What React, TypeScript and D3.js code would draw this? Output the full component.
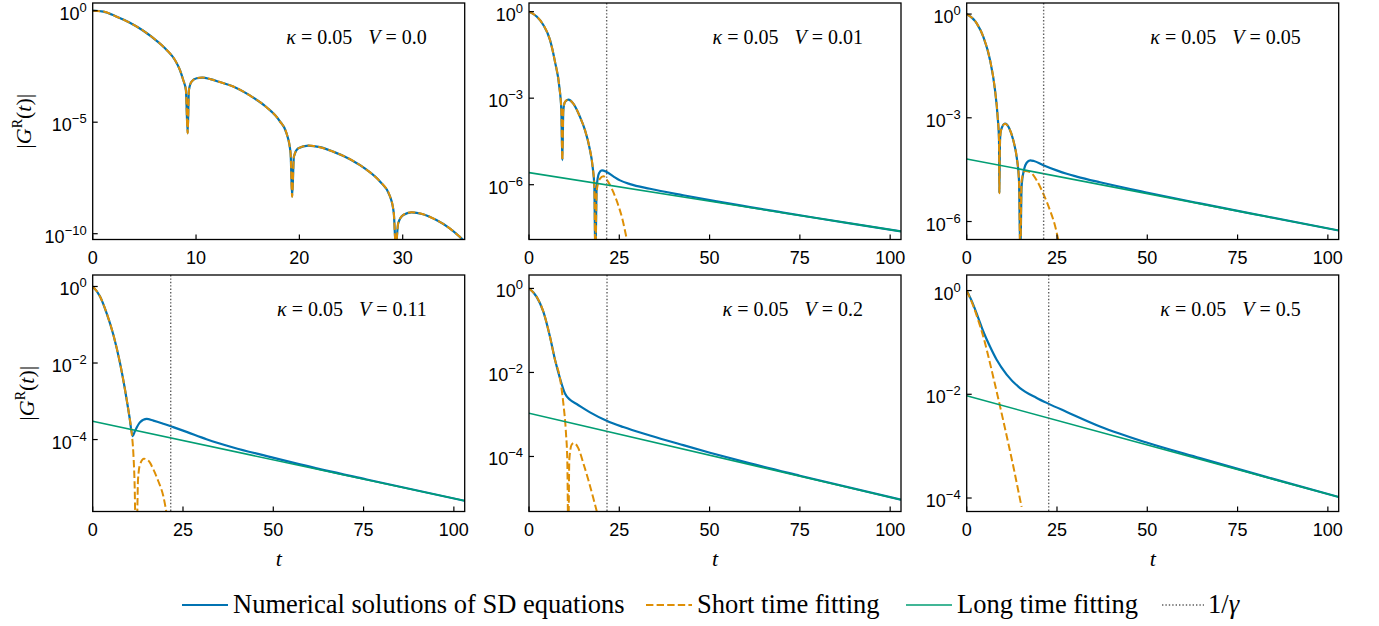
import * as React from "react"
import * as d3 from "d3"

type Pt = [number, number] // [t, log10 |G^R(t)|]

// numerical solutions of the SD equations, one per panel
const sdV000: Pt[] = [[0, 0], [1.03, -0.04], [2.32, -0.27], [3.6, -0.54], [4.9, -0.9], [6.19, -1.35], [7.16, -1.76], [7.96, -2.21], [8.44, -2.66], [8.76, -3.11], [9.02, -3.56], [9.19, -5.5], [9.31, -3.56], [9.57, -3.18], [10.06, -3.03], [10.6, -3.0], [11.4, -3.07], [12.3, -3.2], [13.6, -3.4], [15.2, -3.8], [16.8, -4.32], [18.1, -4.95], [18.76, -5.5], [19.15, -6.39], [19.3, -8.34], [19.47, -6.55], [19.9, -6.17], [20.86, -6.05], [22.0, -6.12], [23.27, -6.32], [24.9, -6.66], [26.5, -7.13], [27.8, -7.66], [28.75, -8.3], [29.14, -9.09], [29.33, -10.6], [29.56, -9.54], [30.05, -9.16], [30.85, -9.04], [31.97, -9.13], [33.26, -9.39], [34.55, -9.76], [35.5, -10.13], [36, -10.35]]
const sdV001: Pt[] = [[0, 0], [2.12, -0.17], [3.97, -0.46], [5.81, -0.98], [7.2, -1.74], [8.4, -2.61], [8.95, -3.42], [9.23, -5.15], [9.5, -3.42], [9.97, -3.13], [10.9, -3.05], [12.27, -3.19], [14.12, -3.65], [15.5, -4.11], [16.7, -4.69], [17.63, -5.39], [18.1, -6.08], [18.37, -8.6], [18.74, -6.08], [19.38, -5.6], [20.2, -5.5], [21.5, -5.56], [23.35, -5.71], [25.2, -5.85], [27.97, -5.98], [33.5, -6.14], [42.7, -6.365], [52, -6.58], [61.2, -6.775], [70.4, -6.966], [79.6, -7.155], [88.9, -7.342], [103, -7.62]]
const sdV005: Pt[] = [[0, 0], [2.77, -0.27], [4.61, -0.66], [6.46, -1.33], [7.84, -2.2], [8.58, -2.98], [8.95, -3.65], [9.04, -5.18], [9.23, -3.65], [9.5, -3.36], [10.6, -3.17], [11.8, -3.31], [12.9, -3.65], [13.84, -4.14], [14.48, -4.81], [14.85, -7.0], [15.2, -5.0], [15.86, -4.5], [16.6, -4.3], [17.6, -4.23], [18.6, -4.25], [21.22, -4.37], [24.9, -4.52], [27.7, -4.62], [30.44, -4.7], [36.9, -4.865], [49.8, -5.16], [64.6, -5.476], [83.1, -5.856], [103, -6.26]]
const sdV011: Pt[] = [[0, 0], [2.03, -0.26], [3.87, -0.7], [5.72, -1.26], [7.56, -2.0], [8.95, -2.7], [10.15, -3.39], [11.07, -3.91], [11.7, -3.78], [13.1, -3.55], [14.94, -3.462], [16.8, -3.504], [19.56, -3.585], [22.3, -3.675], [26.0, -3.8], [31.5, -3.99], [38.9, -4.206], [48.2, -4.433], [57.4, -4.649], [75.9, -5.045], [103, -5.6]]
const sdV020: Pt[] = [[0, 0], [2.12, -0.2], [3.97, -0.55], [5.81, -1.15], [7.2, -1.7], [8.58, -2.14], [9.96, -2.5], [11.35, -2.65], [13.2, -2.75], [16.9, -2.95], [21.5, -3.15], [26.1, -3.3], [33.5, -3.5], [42.7, -3.73], [50.1, -3.91], [61.2, -4.165], [75.0, -4.458], [103, -5.03]]
const sdV050: Pt[] = [[0, 0], [1.84, -0.275], [3.22, -0.53], [4.6, -0.79], [6.45, -1.08], [8.3, -1.335], [11.07, -1.62], [14.76, -1.88], [19.38, -2.07], [22.6, -2.18], [27.7, -2.34], [36.9, -2.62], [49.8, -2.93], [64.6, -3.23], [83.1, -3.597], [103, -3.98]]

// short time fitting: follows the numerical curve early on, then its own tail
const shortV000: Pt[] = sdV000
const shortV001: Pt[] = [...sdV001.slice(0, 18), [18.74, -6.2], [19.66, -5.79], [20.59, -5.71], [21.97, -5.91], [23.35, -6.26], [24.74, -6.72], [25.94, -7.23], [26.86, -7.76], [27.3, -8.0]]
const shortV005: Pt[] = [...sdV005.slice(0, 16), [15.2, -4.81], [16.14, -4.54], [17.53, -4.57], [19.38, -4.81], [21.22, -5.2], [23.07, -5.68], [24.46, -6.12], [25.38, -6.53], [25.8, -6.7]]
const shortV011: Pt[] = [...sdV011.slice(0, 7), [10.8, -3.83], [11.25, -4.35], [11.62, -5.22], [11.9, -6.5], [12.18, -6.5], [12.55, -5.04], [13.1, -4.65], [14.2, -4.5], [15.4, -4.55], [16.8, -4.78], [18.17, -5.09], [19.56, -5.48], [20.5, -5.95]]
const shortV020: Pt[] = [...sdV020.slice(0, 6), [9.5, -2.73], [10.24, -3.45], [10.6, -4.08], [10.89, -6.0], [11.16, -4.08], [11.8, -3.72], [12.45, -3.68], [13.65, -3.8], [15.04, -4.16], [16.4, -4.55], [17.8, -4.99], [18.9, -5.35]]
const shortV050: Pt[] = [[0, 0], [1.84, -0.3], [3.22, -0.58], [4.6, -0.89], [6.0, -1.27], [7.4, -1.68], [8.8, -2.1], [10.2, -2.53], [11.6, -2.97], [13.0, -3.42], [14.4, -3.9], [15.2, -4.17]]

// long time fitting (pure exponential)
const longV001: Pt[] = [[0, -5.58], [103, -7.62]]
const longV005: Pt[] = [[0, -4.19], [103, -6.26]]
const longV011: Pt[] = [[0, -3.52], [103, -5.6]]
const longV020: Pt[] = [[0, -2.97], [103, -5.03]]
const longV050: Pt[] = [[0, -2.03], [103, -3.98]]

const panelV = ["0.0", "0.01", "0.05", "0.11", "0.2", "0.5"]
const panelTMax = [36, 103, 103, 103, 103, 103]
const panelLogY: [number, number][] = [[-10.26, 0.345], [-7.9, 0.3], [-6.52, 0.32], [-5.88, 0.3], [-5.31, 0.32], [-4.26, 0.3]]
const panelXTicks = [[0, 10, 20, 30], [0, 25, 50, 75, 100], [0, 25, 50, 75, 100], [0, 25, 50, 75, 100], [0, 25, 50, 75, 100], [0, 25, 50, 75, 100]]
const panelYTicks = [[0, -5, -10], [0, -3, -6], [0, -3, -6], [0, -2, -4], [0, -2, -4], [0, -2, -4]]
const gammaInv: (number | null)[] = [null, 21.5, 21.3, 21.6, 21.6, 22.7]

const sdCurves = [sdV000, sdV001, sdV005, sdV011, sdV020, sdV050]
const shortCurves = [shortV000, shortV001, shortV005, shortV011, shortV020, shortV050]
const longCurves: (Pt[] | null)[] = [null, longV001, longV005, longV011, longV020, longV050]

const legendLabels = ["Numerical solutions of SD equations", "Short time fitting", "Long time fitting"]

const [W, H] = [1379, 626]
const colLeft = [92.7, 529, 966.7]
const rowTop = [3, 275]
const [panelW, panelH] = [372, 236.5]
const colors = { sd: "#0173B2", short: "#DE8F05", long: "#029E73", gamma: "#5f5f5f" }
const sans = "'Liberation Sans', Arial, sans-serif"
const serif = "'Liberation Serif', 'Times New Roman', serif"

const Panel = ({ i }: { i: number }) => {
    const left = colLeft[i % 3]
    const top = rowTop[Math.floor(i / 3)]
    const x = d3.scaleLinear().domain([0, panelTMax[i]]).range([0, panelW])
    const y = d3.scaleLog().domain([10 ** panelLogY[i][0], 10 ** panelLogY[i][1]]).range([panelH, 0])
    const line = d3.line<Pt>().x(d => x(d[0])).y(d => y(10 ** d[1])).curve(d3.curveMonotoneX)
    const clipId = `clip${i}`
    const g = gammaInv[i]
    const lc = longCurves[i]

    return (
        <g transform={`translate(${left},${top})`}>
            <defs>
                <clipPath id={clipId}>
                    <rect x={0} y={0} width={panelW} height={panelH} />
                </clipPath>
            </defs>
            <g clipPath={`url(#${clipId})`} fill="none">
                <path d={line(sdCurves[i]) ?? ""} stroke={colors.sd} strokeWidth={2.2} />
                <path d={line(shortCurves[i]) ?? ""} stroke={colors.short} strokeWidth={2} strokeDasharray="7.4,3.2" />
                {lc && <path d={line(lc) ?? ""} stroke={colors.long} strokeWidth={1.6} />}
                {g !== null && <line x1={x(g)} x2={x(g)} y1={0} y2={panelH} stroke={colors.gamma} strokeWidth={1.4} strokeDasharray="1.4,2" />}
            </g>
            <rect x={0} y={0} width={panelW} height={panelH} fill="none" stroke="black" strokeWidth={1.3} />
            {panelXTicks[i].map(t => (
                <g key={`x${t}`}>
                    <line x1={x(t)} x2={x(t)} y1={panelH} y2={panelH - 5} stroke="black" strokeWidth={1.2} />
                    <text x={x(t)} y={panelH + 24} fontSize={18} fontFamily={sans} textAnchor="middle" fill="black">{t}</text>
                </g>
            ))}
            {panelYTicks[i].map(e => (
                <g key={`y${e}`}>
                    <line x1={0} x2={5} y1={y(10 ** e)} y2={y(10 ** e)} stroke="black" strokeWidth={1.2} />
                    <text x={-6} y={y(10 ** e) + 9} fontSize={18} fontFamily={sans} textAnchor="end" fill="black">
                        10<tspan dy={-8} fontSize={13}>{e === 0 ? "0" : `\u2212${-e}`}</tspan>
                    </text>
                </g>
            ))}
            <text x={panelW - 38} y={41} fontSize={20} fontFamily={serif} textAnchor="end" fill="black">
                <tspan fontStyle="italic">κ</tspan> = 0.05<tspan dx={16} fontStyle="italic">V</tspan> = {panelV[i]}
            </text>
            {i % 3 === 0 && (
                <text transform={`translate(${i === 0 ? -62 : -59},${panelH / 2}) rotate(-90)`} fontSize={22} fontFamily={serif} textAnchor="middle" fill="black">
                    |<tspan fontStyle="italic">G</tspan><tspan dy={-9} fontSize={14}>R</tspan><tspan dy={9}>(</tspan><tspan fontStyle="italic">t</tspan>)|
                </text>
            )}
            {i >= 3 && (
                <text x={panelW / 2} y={panelH + 54} fontSize={22} fontFamily={serif} fontStyle="italic" textAnchor="middle" fill="black">t</text>
            )}
        </g>
    )
}

const Legend = () => {
    const ly = 605
    const items = [
        { x: 182, color: colors.sd, dash: undefined, w: 2.2 },
        { x: 646, color: colors.short, dash: "7.4,3.2", w: 2 },
        { x: 906, color: colors.long, dash: undefined, w: 1.6 },
    ]
    return (
        <g>
            {items.map((it, k) => (
                <g key={k}>
                    <line x1={it.x} x2={it.x + 46} y1={ly} y2={ly} stroke={it.color} strokeWidth={it.w} strokeDasharray={it.dash} />
                    <text x={it.x + 51} y={ly + 8} fontSize={26.5} fontFamily={serif} fill="black">{legendLabels[k]}</text>
                </g>
            ))}
            <line x1={1162} x2={1204} y1={ly} y2={ly} stroke={colors.gamma} strokeWidth={1.4} strokeDasharray="1.4,2" />
            <text x={1208} y={ly + 8} fontSize={26.5} fontFamily={serif} fill="black">
                1/<tspan fontStyle="italic">γ</tspan>
            </text>
        </g>
    )
}

export default function App() {
    return (
        <div style={{ position: "absolute", left: 0, top: 0 }}>
            <svg width={W} height={H} style={{ display: "block", background: "white" }}>
                {[0, 1, 2, 3, 4, 5].map(i => <Panel key={i} i={i} />)}
                <Legend />
            </svg>
        </div>
    )
}
